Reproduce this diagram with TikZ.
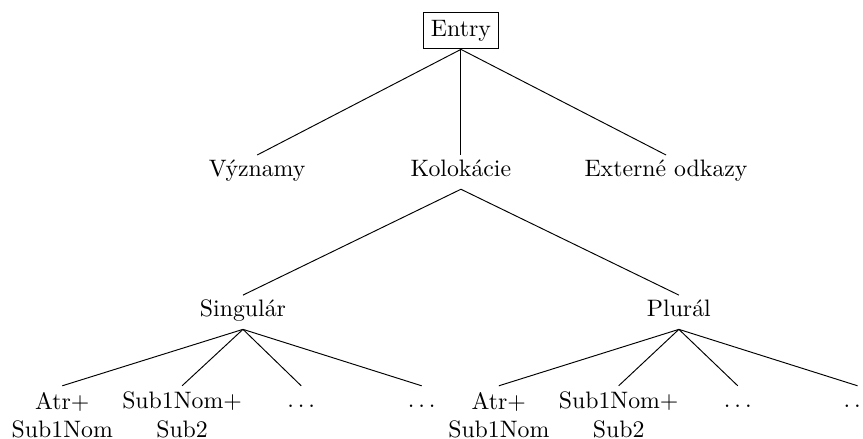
\documentclass[tikz,border=0pt]{standalone}
\begin{document}
\begin{tikzpicture}[entry node/.style={draw,inner sep=3.33pt},level node/.style={anchor=north,inner sep=2.5pt,text height=6.5pt,text depth=2.5pt},leaf node/.style={anchor=north,inner sep=2.5pt,align=center}]
\useasboundingbox (0,0) rectangle (12.75,-6.48);
\node[entry node] (en) at (6.81,-0.45) {Entry};
\begin{scope}[every node/.style={level node}]
\node (vyz) at (3.80,-2.29) {Významy};
\node (kol) at (6.81,-2.29) {Kolokácie};
\node (ext) at (9.84,-2.29) {Externé odkazy};
\node (sg) at (3.59,-4.36) {Singulár};
\node (pl) at (10.03,-4.36) {Plurál};
\node (sg3) at (4.45,-5.70) {$\ldots$};
\node (sg4) at (6.23,-5.70) {$\ldots$};
\node (pl3) at (10.90,-5.70) {$\ldots$};
\node (pl4) at (12.67,-5.70) {$\ldots$};
\end{scope}
\node[leaf node] (sg1) at (0.92,-5.70) {Atr+\\Sub1Nom};
\node[leaf node] (sg2) at (2.69,-5.70) {Sub1Nom+\\Sub2};
\node[leaf node] (pl1) at (7.37,-5.70) {Atr+\\Sub1Nom};
\node[leaf node] (pl2) at (9.14,-5.70) {Sub1Nom+\\Sub2};
%
\draw (en.south) edge (vyz.north);
\draw (en.south) edge (kol.north);
\draw (en.south) edge (ext.north);
\draw (kol.south) edge (sg.north);
\draw (kol.south) edge (pl.north);
\draw (sg.south) edge (sg1.north);
\draw (sg.south) edge (sg2.north);
\draw (sg.south) edge (sg3.north);
\draw (sg.south) edge (sg4.north);
\draw (pl.south) edge (pl1.north);
\draw (pl.south) edge (pl2.north);
\draw (pl.south) edge (pl3.north);
\draw (pl.south) edge (pl4.north);
\end{tikzpicture}
\end{document}
